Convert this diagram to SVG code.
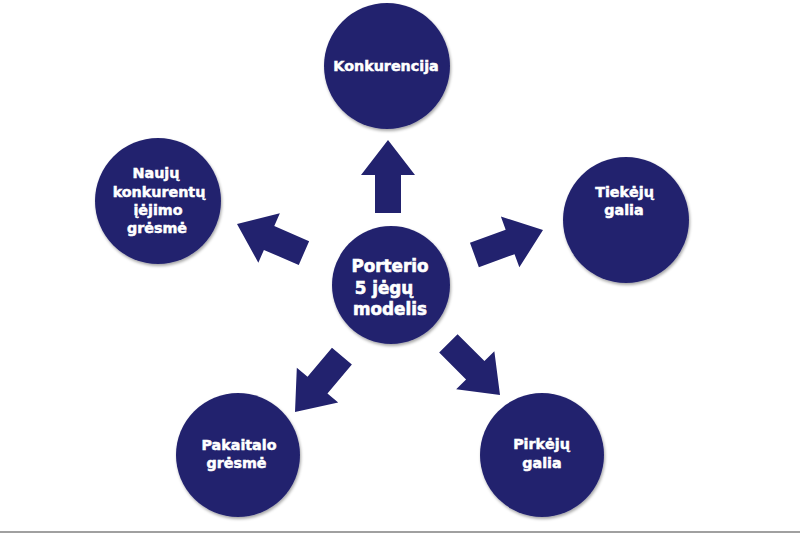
<svg xmlns="http://www.w3.org/2000/svg" width="800" height="533" viewBox="0 0 800 533">
  <defs>
    <filter id="sh" x="-20%" y="-20%" width="140%" height="140%">
      <feGaussianBlur in="SourceAlpha" stdDeviation="1.5"/>
      <feOffset dx="1" dy="1.5" result="b"/>
      <feFlood flood-color="#000" flood-opacity="0.35"/>
      <feComposite in2="b" operator="in"/>
      <feMerge><feMergeNode/><feMergeNode in="SourceGraphic"/></feMerge>
    </filter>
    <polygon id="arr" points="0,0 27,35 13,35 13,73 -13,73 -13,35 -27,35"/>
  </defs>
  <style>
    .node circle { fill: #22226e; filter: url(#sh); }
    .node text { fill: #ffffff; stroke: #ffffff; stroke-width: 0.5px; font-family: "DejaVu Sans", Verdana, sans-serif; font-weight: bold; font-size: 14.3px; text-anchor: middle; }
    .node.center text { font-size: 16.8px; stroke-width: 0.6px; }
    .arrows use { fill: #22226e; }
  </style>
  <rect width="800" height="533" fill="#ffffff"/>

  <g class="arrows" id="connectors">
    <use href="#arr" transform="translate(388,140)"/>
    <use href="#arr" transform="translate(237,224) rotate(-66.5)"/>
    <use href="#arr" transform="translate(543,230) rotate(70)"/>
    <use href="#arr" transform="translate(295,412) rotate(-140)"/>
    <use href="#arr" transform="translate(500,395) rotate(135)"/>
  </g>

  <g class="node" id="konkurencija">
    <circle cx="387" cy="66" r="63"/>
    <text x="386" y="71">Konkurencija</text>
  </g>

  <g class="node" id="nauju">
    <circle cx="158" cy="201" r="63"/>
    <text x="156" y="178">Naujų</text>
    <text x="159" y="197">konkurentų</text>
    <text x="158" y="215">įėjimo</text>
    <text x="157" y="233">grėsmė</text>
  </g>

  <g class="node center" id="porterio">
    <circle cx="391" cy="285" r="59"/>
    <text x="390" y="272">Porterio</text>
    <text x="384" y="293.5">5 jėgų</text>
    <text x="390" y="315">modelis</text>
  </g>

  <g class="node" id="tiekeju">
    <circle cx="626" cy="220" r="63"/>
    <text x="624.5" y="197">Tiekėjų</text>
    <text x="624" y="215">galia</text>
  </g>

  <g class="node" id="pakaitalo">
    <circle cx="238" cy="455" r="62"/>
    <text x="239" y="450">Pakaitalo</text>
    <text x="236.5" y="468">grėsmė</text>
  </g>

  <g class="node" id="pirkeju">
    <circle cx="542" cy="455" r="62"/>
    <text x="541.5" y="449">Pirkėjų</text>
    <text x="542" y="468">galia</text>
  </g>

  <rect x="0" y="531" width="800" height="2" fill="#a0a0a0"/>
</svg>
